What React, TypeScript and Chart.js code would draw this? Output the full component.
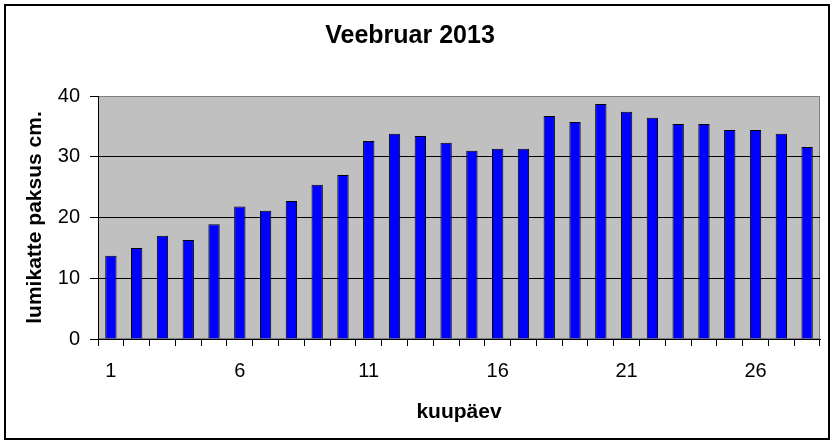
import React, { useEffect, useRef } from 'react';
import { Chart, registerables } from 'chart.js';

Chart.register(...registerables);

// Snow cover, February 2013
const days = ['1', '2', '3', '4', '5', '6', '7', '8', '9', '10', '11', '12', '13', '14',
  '15', '16', '17', '18', '19', '20', '21', '22', '23', '24', '25', '26', '27', '28'];
const snowDepth = [13.7, 15.0, 17.0, 16.3, 18.9, 21.8, 21.1, 22.7, 25.4, 27.0, 32.6, 33.8, 33.4, 32.3,
  31.0, 31.3, 31.3, 36.7, 35.7, 38.7, 37.4, 36.4, 35.4, 35.4, 34.4, 34.4, 33.8, 31.6];
const yTicks = [0, 10, 20, 30, 40];

const FONT = "'Liberation Sans', Arial, sans-serif";

// silver plot area with grey frame + black outer border
const frame = {
  id: 'frame',
  beforeDraw: (chart: Chart) => {
    const { ctx, chartArea } = chart;
    ctx.save();
    ctx.fillStyle = '#c0c0c0';
    ctx.fillRect(chartArea.left, chartArea.top, chartArea.right - chartArea.left, chartArea.bottom - chartArea.top);
    ctx.strokeStyle = '#808080';
    ctx.lineWidth = 1;
    ctx.strokeRect(chartArea.left + 0.5, chartArea.top + 0.5, chartArea.right - chartArea.left - 1, chartArea.bottom - chartArea.top - 1);
    ctx.restore();
  },
  afterDraw: (chart: Chart) => {
    const { ctx } = chart;
    ctx.save();
    ctx.strokeStyle = '#000';
    ctx.lineWidth = 2;
    ctx.strokeRect(5, 5, 824, 434);
    ctx.restore();
  },
};

export default function App() {
  const canvasRef = useRef<HTMLCanvasElement | null>(null);

  useEffect(() => {
    if (!canvasRef.current) return;
    const chart = new Chart(canvasRef.current, {
      type: 'bar',
      data: {
        labels: days,
        datasets: [
          {
            label: 'lumikatte paksus',
            data: snowDepth,
            backgroundColor: '#0000ff',
            borderColor: '#000000',
            borderWidth: 1,
            barPercentage: 0.44,
            categoryPercentage: 1,
          },
        ],
      },
      options: {
        responsive: false,
        animation: false,
        devicePixelRatio: 1,
        layout: { padding: { left: 0, right: 15, top: 0, bottom: 0 } },
        plugins: {
          legend: { display: false },
          tooltip: { enabled: false },
          title: {
            display: true,
            text: 'Veebruar 2013',
            color: '#000',
            font: { family: FONT, size: 25, weight: 'bold', lineHeight: 1.2 },
            padding: { top: 21, bottom: 45 },
          },
        },
        scales: {
          x: {
            afterFit: (scale: any) => { scale.height = 106; },
            grid: { display: true, drawOnChartArea: false, drawTicks: true, tickLength: 7, color: '#000', offset: true },
            border: { color: '#000', width: 1 },
            ticks: {
              autoSkip: false,
              maxRotation: 0,
              padding: 13,
              color: '#000',
              font: { family: FONT, size: 20 },
              callback: (_v: any, i: number) => (i % 5 === 0 ? days[i] : ''),
            },
            title: {
              display: true,
              text: 'kuupäev',
              color: '#000',
              font: { family: FONT, size: 21, weight: 'bold', lineHeight: 1.2 },
              padding: { top: 0, bottom: 20 },
            },
          },
          y: {
            min: yTicks[0],
            max: yTicks[yTicks.length - 1],
            afterFit: (scale: any) => { scale.width = 98; },
            afterBuildTicks: (scale: any) => { scale.ticks = yTicks.map((v) => ({ value: v })); },
            grid: {
              color: (c: any) => (c.tick && c.tick.value === 40 ? '#808080' : '#000'),
              tickColor: '#000',
              tickLength: 8,
              lineWidth: 1,
            },
            border: { color: '#000', width: 1 },
            ticks: {
              padding: 10,
              color: '#000',
              font: { family: FONT, size: 20 },
            },
            title: {
              display: true,
              text: 'lumikatte paksus cm.',
              color: '#000',
              font: { family: FONT, size: 21, weight: 'bold', lineHeight: 1.2 },
              padding: { top: 23, bottom: 0 },
            },
          },
        },
      },
      plugins: [frame],
    });
    return () => chart.destroy();
  }, []);

  return (
    <div style={{ position: 'fixed', left: 0, top: 0, width: 835, height: 445, background: '#fff' }}>
      <canvas ref={canvasRef} width={835} height={445} style={{ display: 'block' }} />
    </div>
  );
}
